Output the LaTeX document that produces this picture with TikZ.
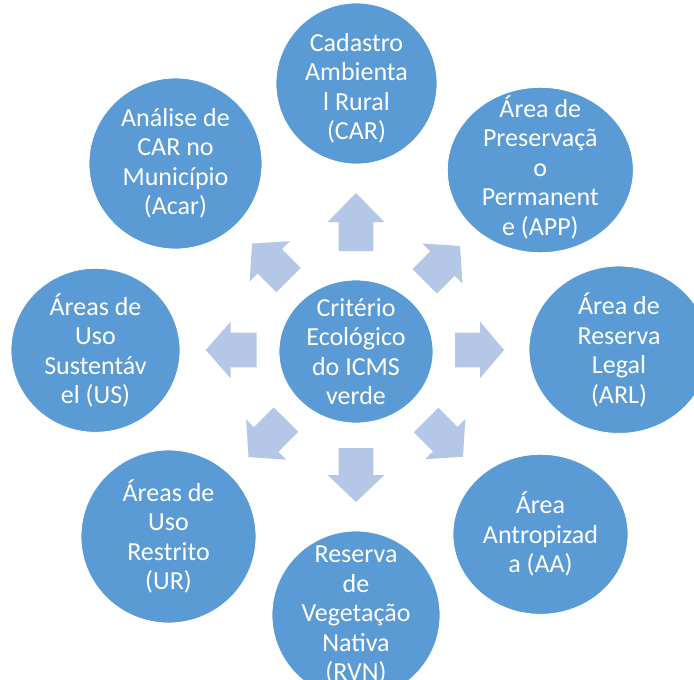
\documentclass[tikz,border=0pt]{standalone}
\usepackage{fontspec}
\setmainfont{Carlito}
\usetikzlibrary{shapes.geometric}
\definecolor{bubbleblue}{HTML}{5B9BD5}
\definecolor{arrowblue}{HTML}{B4C7E7}
% block arrow: tail point, direction (deg), total length, head length
\newcommand\bArrow[5]{%
  \begin{scope}[shift={(#1,#2)}, rotate=#3]
    \fill[arrowblue] (0,-17.3) -- (#4-#5,-17.3) -- (#4-#5,-28.4) -- (#4,0)
      -- (#4-#5,28.4) -- (#4-#5,17.3) -- (0,17.3) -- cycle;
  \end{scope}}
\tikzset{
  bubble/.style={ellipse, fill=bubbleblue, draw=white, line width=0.8pt, inner sep=0pt},
  bubbletext/.style={text=white, align=center, inner sep=0pt,
    font=\fontsize{26}{29.5}\selectfont}
}
\begin{document}
\begin{tikzpicture}[x=1pt, y=-1pt]
  \useasboundingbox (0,0) rectangle (694,680);
  \clip (0,0) rectangle (694,680);
  \fill[white] (0,0) rectangle (694,680);

  % outer and centre bubbles
  \node[bubble, minimum width=154pt, minimum height=143pt] (ctr) at (356,351.5) {};
  \node[bubble, minimum width=161pt, minimum height=161pt] (car) at (356.5,83.5) {};
  \node[bubble, minimum width=186pt, minimum height=165.4pt] (app) at (540.3,170) {};
  \node[bubble, minimum width=180pt, minimum height=167.4pt] (arl) at (619,349.7) {};
  \node[bubble, minimum width=175pt, minimum height=160pt] (aa) at (540.5,534.3) {};
  \node[bubble, minimum width=168pt, minimum height=168pt] (rvn) at (356,615) {};
  \node[bubble, minimum width=175pt, minimum height=173pt] (ur) at (168.5,536.5) {};
  \node[bubble, minimum width=169pt, minimum height=164pt] (us) at (95.5,350.3) {};
  \node[bubble, minimum width=173pt, minimum height=171pt] (acar) at (175.5,163.5) {};

  % labels
  \node[bubbletext] (ctrtxt) at (ctr) {Critério\\Ecológico\\do ICMS\\verde};
  \node[bubbletext] (cartxt) at ([yshift=-5pt]car.center) {Cadastro\\Ambienta\\l Rural\\(CAR)};
  \node[bubbletext] (apptxt) at ([yshift=3pt]app.center) {Área de\\Preservaçã\\o\\Permanent\\e (APP)};
  \node[bubbletext] (arltxt) at (arl) {Área de\\Reserva\\Legal\\(ARL)};
  \node[bubbletext] (aatxt) at (aa) {Área\\Antropizad\\a (AA)};
  \node[bubbletext] (rvntxt) at (rvn) {Reserva\\de\\Vegetação\\Nativa\\(RVN)};
  \node[bubbletext] (urtxt) at (ur) {Áreas de\\Uso\\Restrito\\(UR)};
  \node[bubbletext] (ustxt) at (us) {Áreas de\\Uso\\Sustentáv\\el (US)};
  \node[bubbletext] (acartxt) at (acar) {Análise de\\CAR no\\Município\\(Acar)};

  % diverging arrows
  \bArrow{356}{251}{90}{58}{29}
  \bArrow{424.7}{281.3}{45}{50}{25}
  \bArrow{455}{350}{0}{49}{24}
  \bArrow{426.2}{420}{-45}{52}{25}
  \bArrow{356}{448}{-90}{54}{27}
  \bArrow{286}{419.7}{-135}{53}{25}
  \bArrow{256.7}{350}{180}{51}{25}
  \bArrow{288.5}{280}{135}{51.5}{25}
\end{tikzpicture}
\end{document}
